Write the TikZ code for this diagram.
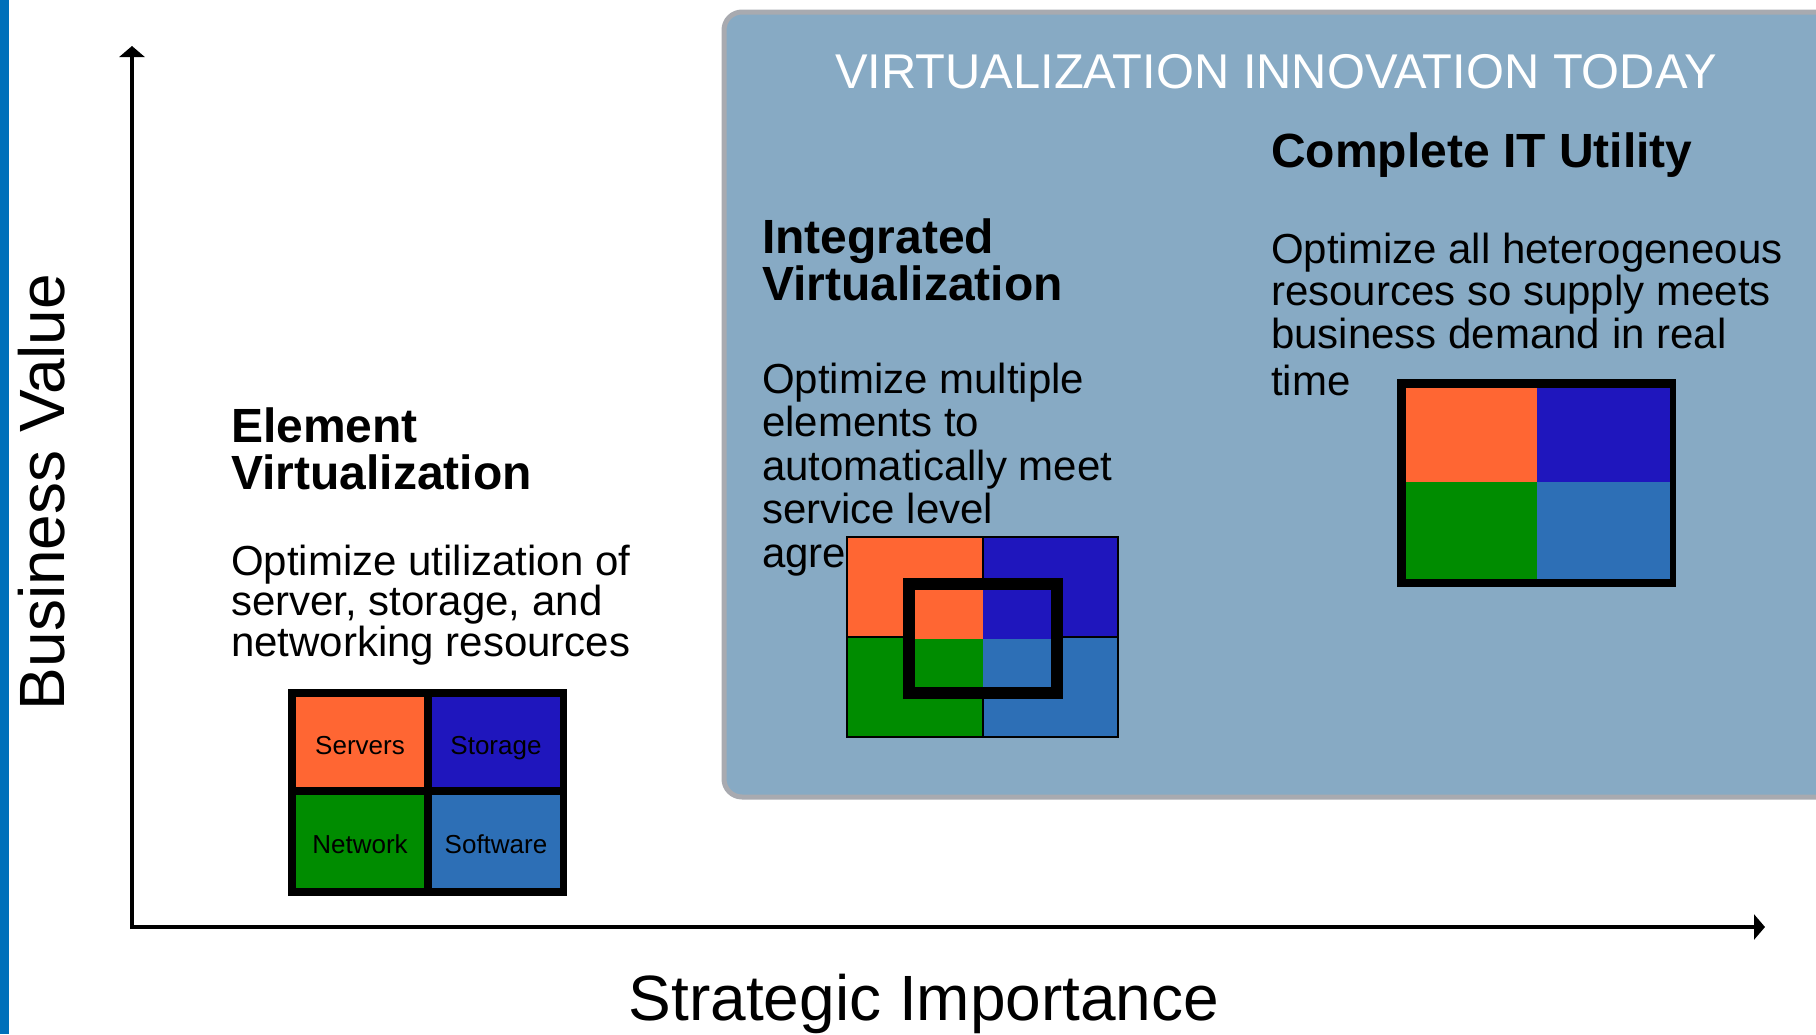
\documentclass[tikz,border=0pt]{standalone}
\usepackage{fontspec}
\setmainfont{Liberation Sans}
\usetikzlibrary{arrows.meta}
\definecolor{barblue}{RGB}{0,112,186}
\definecolor{panelfill}{RGB}{135,170,196}
\definecolor{panelline}{RGB}{168,170,176}
\definecolor{corange}{RGB}{255,102,51}
\definecolor{cdblue}{RGB}{31,22,189}
\definecolor{cgreen}{RGB}{0,140,0}
\definecolor{clblue}{RGB}{45,111,182}
\newcommand{\myfs}[1]{\fontsize{#1}{#1}\selectfont}
\newcommand{\myfsb}[2]{\fontsize{#1}{#2}\selectfont}
\begin{document}
\begin{tikzpicture}[x=1pt,y=1pt,
  body/.style={anchor=base west, inner sep=0pt, font=\myfs{42}},
  head/.style={anchor=base west, inner sep=0pt, align=left, font=\myfsb{48}{#1}\bfseries},
  box/.style={anchor=north west, inner sep=0pt, outer sep=0pt},
  lbl/.style={font=\myfs{26}, text height=26pt, text depth=2pt},
  axis/.style={line width=4pt, -{Triangle[width=25pt,length=11pt]}}]
\useasboundingbox (0,0) rectangle (1816,-1034);
\clip (0,0) rectangle (1816,-1034);
\fill[white] (0,0) rectangle (1816,-1034);
% left bar
\fill[barblue] (0,0) rectangle (9,-1034);
% panel
\draw[rounded corners=18pt, fill=panelfill, draw=panelline, line width=5pt] (724,-12) rectangle (1850,-797);
% axes
\coordinate (origin) at (132,-927);
\coordinate (ytip) at (132,-46);
\coordinate (xtip) at (1765,-927);
\draw[axis] (132,-929) -- (ytip);
\draw[axis] (130,-927) -- (xtip);
\node[anchor=base, inner sep=0pt, rotate=90, font=\myfs{64}] (yl) at (64,-492) {Business Value};
\node[anchor=base, inner sep=0pt, font=\myfs{64}] (xl) at (924,-1020) {Strategic Importance};
% title
\node[anchor=base, inner sep=0pt, font=\myfs{48.8}, text=white] (title) at (1276,-88) {VIRTUALIZATION INNOVATION TODAY};
% element
\node[head=46.5] (eh) at (231,-489) {Element\\Virtualization};
\node[body] (eb1) at (231,-575) {Optimize utilization of};
\node[body] (eb2) at (231,-615) {server, storage, and};
\node[body] (eb3) at (231,-656) {networking resources};
% integrated
\node[head=47] (ih) at (762,-300) {Integrated\\Virtualization};
\node[body] (ib1) at (762,-393) {Optimize multiple};
\node[body] (ib2) at (762,-436) {elements to};
\node[body] (ib3) at (762,-480) {automatically meet};
\node[body] (ib4) at (762,-523) {service level};
\node[body] (ib5) at (762,-567) {agre};
% complete
\node[head=48] (ch1) at (1271,-167) {Complete IT Utility};
\node[body] (cb1) at (1271,-263) {Optimize all heterogeneous};
\node[body] (cb2) at (1271,-305) {resources so supply meets};
\node[body] (cb3) at (1271,-348) {business demand in real};
\node[body] (cb4) at (1271,-395) {time};
% element grid
\node[box, fill=black, minimum width=279pt, minimum height=207pt] (egrid) at (288,-689) {};
\node[box, fill=corange, minimum width=128pt, minimum height=90pt, lbl] (servers) at (296,-697) {Servers};
\node[box, fill=cdblue, minimum width=128pt, minimum height=90pt, lbl] (storage) at (432,-697) {Storage};
\node[box, fill=cgreen, minimum width=128pt, minimum height=93pt, lbl] (network) at (296,-795) {Network};
\node[box, fill=clblue, minimum width=128pt, minimum height=93pt, lbl] (software) at (432,-795) {Software};
% integrated grid
\node[box, fill=corange, draw=black, line width=2.5pt, minimum width=136pt, minimum height=100pt] (io1) at (847,-537) {};
\node[box, fill=cdblue, draw=black, line width=2.5pt, minimum width=135pt, minimum height=100pt] (io2) at (983,-537) {};
\node[box, fill=cgreen, draw=black, line width=2.5pt, minimum width=136pt, minimum height=100pt] (io3) at (847,-637) {};
\node[box, fill=clblue, draw=black, line width=2.5pt, minimum width=135pt, minimum height=100pt] (io4) at (983,-637) {};
\node[box, fill=corange, minimum width=68pt, minimum height=49pt] (ii1) at (915,-590) {};
\node[box, fill=cdblue, minimum width=68pt, minimum height=49pt] (ii2) at (983,-590) {};
\node[box, fill=cgreen, minimum width=68pt, minimum height=48pt] (ii3) at (915,-639) {};
\node[box, fill=clblue, minimum width=68pt, minimum height=48pt] (ii4) at (983,-639) {};
\node[draw=black, line width=12pt, inner sep=0pt, minimum width=148.5pt, minimum height=109pt] (iframe) at (982.75,-638.5) {};
% complete grid
\node[box, fill=black, minimum width=279pt, minimum height=208pt] (cgrid) at (1397,-379) {};
\node[box, fill=corange, minimum width=131pt, minimum height=94pt] (c1) at (1406,-388) {};
\node[box, fill=cdblue, minimum width=133pt, minimum height=94pt] (c2) at (1537,-388) {};
\node[box, fill=cgreen, minimum width=131pt, minimum height=97pt] (c3) at (1406,-482) {};
\node[box, fill=clblue, minimum width=133pt, minimum height=97pt] (c4) at (1537,-482) {};
\end{tikzpicture}
\end{document}
